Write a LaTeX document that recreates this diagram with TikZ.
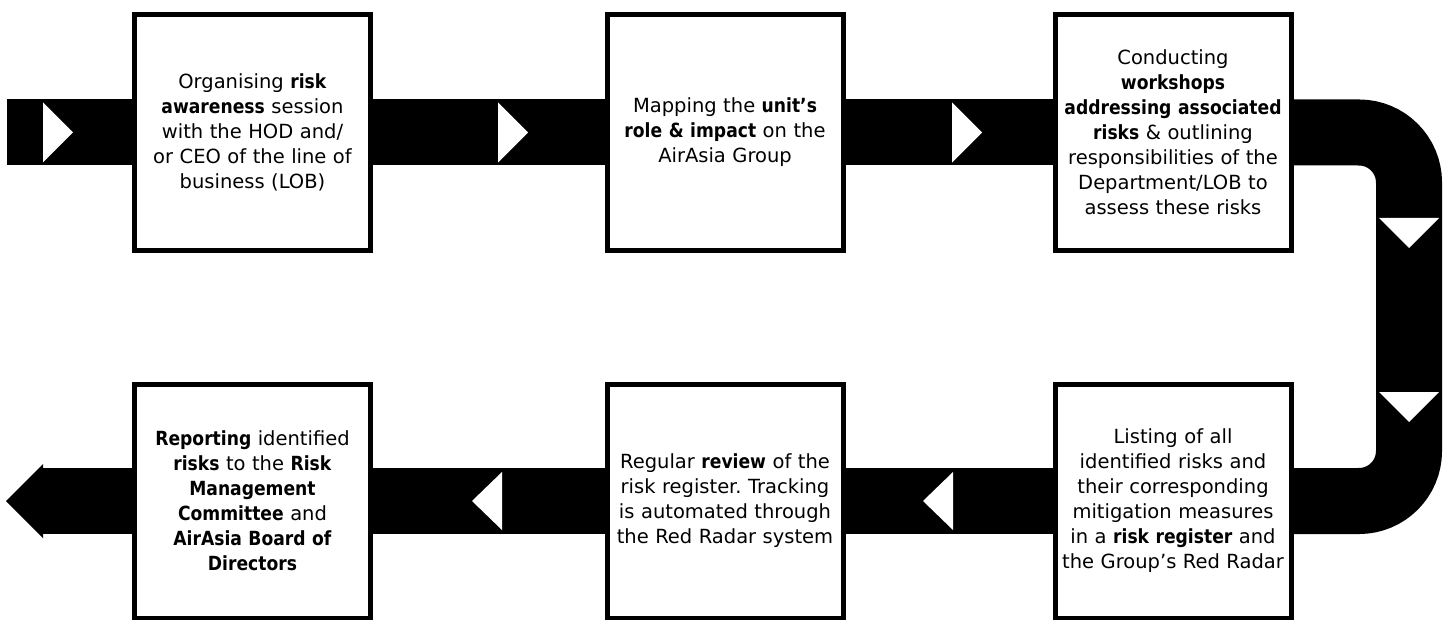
\documentclass[tikz,border=0pt]{standalone}
\usepackage{fontspec}
\setmainfont{DejaVu Sans}[BoldFont={DejaVu Sans Bold},BoldFeatures={FakeStretch=0.88}]
\frenchspacing
\usetikzlibrary{backgrounds}
\begin{document}
\begin{tikzpicture}[x=1pt,y=-1pt,
  stepbox/.style={draw=black, fill=white, line width=5pt, inner sep=0pt,
    minimum width=236pt, text width=236pt, align=center,
    font=\fontsize{19.5}{25}\selectfont},
  topbox/.style={stepbox, minimum height=236pt},
  lowbox/.style={stepbox, minimum height=234pt},
  band/.style={draw=black, line width=66pt},
  chev/.style={fill=white},
  head/.style={fill=black}]
\useasboundingbox (0,0) rectangle (1443,620);

% process steps, upper row (left to right)
\node[topbox] (b1) at (252.5,132.5) {Organising \textbf{risk}\\\textbf{awareness} session\\with the HOD and/\\or CEO of the line of\\business (LOB)};
\node[topbox] (b2) at (725,132.5) {Mapping the \textbf{unit’s}\\\textbf{role \& impact} on the\\AirAsia Group};
\node[topbox] (b3) at (1173,132.5) {Conducting\\\textbf{workshops}\\\textbf{addressing associated}\\\textbf{risks} \& outlining\\responsibilities of the\\Department/LOB to\\assess these risks};

% process steps, lower row (right to left)
\node[lowbox] (b6) at (1173,501) {Listing of all\\identified risks and\\their corresponding\\mitigation measures\\in a \textbf{risk register} and\\the Group’s Red Radar};
\node[lowbox] (b5) at (725,501) {Regular \textbf{review} of the\\risk register. Tracking\\is automated through\\the Red Radar system};
\node[lowbox] (b4) at (252.5,501) {\textbf{Reporting} identified\\\textbf{risks} to the \textbf{Risk}\\\textbf{Management}\\\textbf{Committee} and\\\textbf{AirAsia Board of}\\\textbf{Directors}};

\begin{scope}[on background layer]
  \coordinate (start) at (7,132.5);
  \coordinate (ne) at (1409,132.5);
  \coordinate (se) at (1409,501);
  \coordinate (tail) at (43,501);
  \coordinate (tip) at (6,501);
  \coordinate (tailtop) at (43,464);
  \coordinate (tailbot) at (43,538);

  % the flow band
  \draw[band] (start) -- (b1);
  \draw[band] (b1) -- (b2);
  \draw[band] (b2) -- (b3);
  \draw[band, rounded corners=50pt] (b3) -- (ne) -- (se) -- (b6);
  \draw[band] (b6) -- (b5);
  \draw[band] (b5) -- (b4);
  \draw[band] (b4) -- (tail);
  \fill[head] (tailtop) -- (tip) -- (tailbot) -- cycle;

  % direction markers on the band
  \foreach \bx in {43,498,952}
    \fill[chev] (\bx,102.5) -- (\bx+30,132.5) -- (\bx,162.5) -- cycle;
  \foreach \by in {218,392}
    \fill[chev] (1379,\by) -- (1409,\by+30) -- (1439,\by) -- cycle;
  \foreach \tx in {472,923}
    \fill[chev] (\tx,501) -- (\tx+30,472) -- (\tx+30,530) -- cycle;
\end{scope}
\end{tikzpicture}
\end{document}
